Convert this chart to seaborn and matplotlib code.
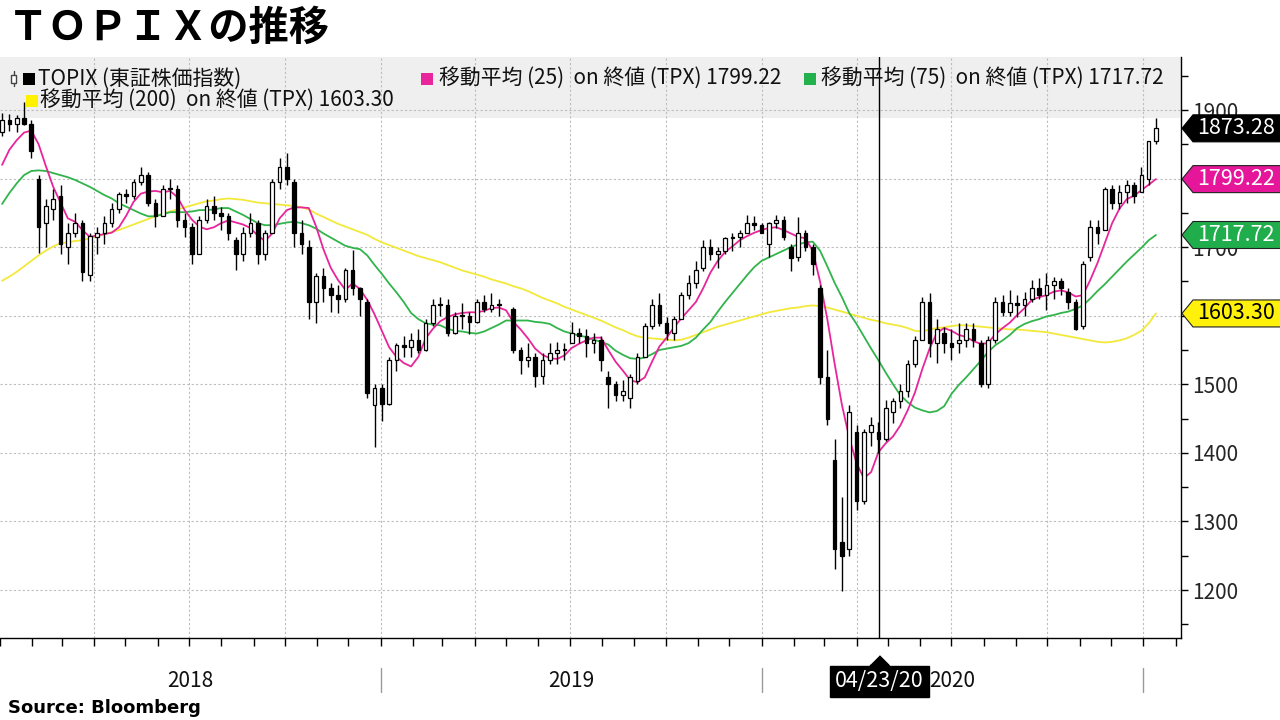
import numpy as np
import pandas as pd
import matplotlib
matplotlib.use("Agg")
import matplotlib.pyplot as plt
import matplotlib.dates as mdates
import matplotlib.transforms as mtrans
from matplotlib.patches import Polygon, Rectangle
from matplotlib.lines import Line2D
import seaborn as sns

# ---------------- data (weekly candles) ----------------
week_mid = pd.date_range("2018-01-03", periods=159, freq="7D")
nan = np.nan
opens = [1868, 1885, 1880, 1889, 1880, 1800, 1735, 1755, 1775, 1700, 1720, 1735, 1660, 1715, 1720, 1735,
         1755, 1777, 1775, 1795, 1805, 1765, 1745, 1785, 1785, 1740, 1730, 1690, 1740, 1760, 1750, 1745,
         1710, 1690, 1720, 1735, 1690, 1720, 1795, 1817, 1795, 1720, 1700, 1620, 1658, 1640, 1630, 1625,
         1667, 1640, 1620, 1470, 1494, 1471, 1535, 1557, 1554, 1564, 1550, 1590, 1615, 1615, 1575, 1600,
         1600, 1591, 1620, 1610, 1615, nan, 1610, 1550, 1535, 1540, 1512, 1535, 1545, 1550, 1560, 1575,
         1571, 1560, 1565, 1510, 1500, 1485, 1480, 1505, 1540, 1585, 1615, 1590, 1575, 1595, 1630, 1648,
         1670, 1700, 1690, 1695, 1714, 1715, 1720, 1735, 1733, 1705, 1735, 1740, 1700, 1685, 1720, 1700,
         1640, 1510, 1390, 1270, 1260, 1430, 1330, 1430, 1430, 1420, 1460, 1475, 1490, 1530, 1565, 1620,
         1560, 1575, 1560, 1560, 1565, 1580, 1560, 1500, 1565, 1620, 1605, 1618, 1615, 1625, 1640, 1630,
         1645, 1650, 1635, 1620, 1585, 1685, 1730, 1725, 1785, 1765, 1780, 1790, 1780, 1800, 1855]
highs = [1896, 1894, 1892, 1911, 1885, 1805, 1770, 1785, 1790, 1735, 1750, 1740, 1720, 1730, 1745, 1765,
         1780, 1785, 1800, 1817, 1810, 1770, 1790, 1800, 1790, 1750, 1735, 1745, 1770, 1775, 1758, 1750,
         1715, 1730, 1750, 1740, 1725, 1800, 1830, 1837, 1800, 1740, 1710, 1662, 1670, 1647, 1645, 1670,
         1696, 1642, 1625, 1500, 1500, 1540, 1560, 1570, 1575, 1580, 1595, 1625, 1627, 1625, 1605, 1618,
         1605, 1625, 1630, 1633, 1625, nan, 1612, 1555, 1560, 1545, 1545, 1560, 1561, 1560, 1591, 1582,
         1580, 1575, 1570, 1520, 1505, 1506, 1515, 1545, 1590, 1625, 1633, 1598, 1600, 1635, 1660, 1680,
         1710, 1712, 1700, 1715, 1720, 1725, 1747, 1745, 1735, 1737, 1747, 1745, 1705, 1744, 1725, 1705,
         1645, 1550, 1420, 1335, 1470, 1440, 1435, 1452, 1445, 1477, 1480, 1500, 1535, 1570, 1627, 1633,
         1595, 1583, 1580, 1589, 1589, 1590, 1565, 1570, 1627, 1630, 1637, 1630, 1635, 1652, 1655, 1662,
         1656, 1655, 1640, 1625, 1680, 1740, 1740, 1788, 1790, 1790, 1798, 1795, 1817, 1855, 1888]
lows = [1862, 1870, 1868, 1878, 1830, 1691, 1700, 1740, 1690, 1675, 1715, 1650, 1650, 1690, 1705, 1730,
        1750, 1765, 1770, 1790, 1760, 1730, 1745, 1770, 1730, 1715, 1676, 1690, 1735, 1740, 1725, 1710,
        1666, 1680, 1715, 1676, 1681, 1720, 1785, 1790, 1700, 1690, 1595, 1590, 1620, 1605, 1604, 1620,
        1630, 1600, 1480, 1408, 1447, 1470, 1520, 1540, 1540, 1545, 1548, 1585, 1600, 1570, 1574, 1580,
        1574, 1590, 1605, 1605, 1600, nan, 1545, 1515, 1525, 1496, 1500, 1530, 1530, 1535, 1560, 1560,
        1540, 1545, 1520, 1466, 1475, 1475, 1466, 1500, 1540, 1580, 1585, 1565, 1564, 1595, 1625, 1640,
        1665, 1681, 1670, 1690, 1695, 1700, 1720, 1725, 1721, 1685, 1728, 1710, 1665, 1680, 1695, 1660,
        1500, 1440, 1230, 1199, 1250, 1316, 1325, 1410, 1400, 1418, 1443, 1465, 1481, 1525, 1565, 1540,
        1531, 1545, 1535, 1545, 1555, 1555, 1496, 1495, 1560, 1600, 1600, 1598, 1600, 1620, 1625, 1608,
        1625, 1630, 1610, 1579, 1580, 1680, 1705, 1725, 1755, 1755, 1765, 1764, 1780, 1790, 1850]
closes = [1885, 1880, 1889, 1880, 1840, 1730, 1760, 1770, 1705, 1720, 1735, 1664, 1716, 1720, 1735, 1755,
          1777, 1775, 1795, 1805, 1765, 1745, 1785, 1785, 1740, 1730, 1690, 1740, 1760, 1750, 1745, 1720,
          1690, 1720, 1735, 1690, 1720, 1795, 1817, 1800, 1720, 1705, 1620, 1658, 1640, 1630, 1625, 1667,
          1640, 1625, 1488, 1494, 1471, 1535, 1557, 1554, 1564, 1550, 1590, 1615, 1615, 1575, 1600, 1600,
          1591, 1620, 1610, 1615, 1617, nan, 1550, 1535, 1540, 1512, 1535, 1545, 1550, 1550, 1575, 1571,
          1560, 1565, 1535, 1500, 1485, 1490, 1511, 1540, 1585, 1615, 1590, 1575, 1595, 1630, 1648, 1667,
          1700, 1690, 1695, 1714, 1715, 1720, 1735, 1733, 1721, 1735, 1740, 1715, 1684, 1720, 1700, 1675,
          1510, 1450, 1260, 1250, 1460, 1330, 1430, 1440, 1420, 1465, 1475, 1490, 1530, 1565, 1620, 1560,
          1580, 1560, 1555, 1565, 1580, 1565, 1500, 1565, 1620, 1605, 1618, 1615, 1625, 1640, 1630, 1645,
          1650, 1640, 1620, 1580, 1675, 1730, 1720, 1785, 1765, 1780, 1790, 1775, 1805, 1855, 1873.28]

ma25 = [1820, 1842, 1856, 1867, 1870, 1850, 1818, 1788, 1765, 1742, 1737, 1725, 1715, 1717, 1719, 1721,
        1729, 1746, 1766, 1778, 1781, 1782, 1780, 1782, 1773, 1754, 1740, 1730, 1726, 1729, 1735, 1739,
        1736, 1733, 1728, 1717, 1709, 1720, 1742, 1754, 1758, 1758, 1757, 1730, 1697, 1670, 1652, 1638,
        1647, 1639, 1623, 1602, 1578, 1554, 1540, 1531, 1526, 1540, 1567, 1581, 1592, 1598, 1602, 1604,
        1605, 1605, 1607, 1611, 1612, 1608, 1591, 1580, 1567, 1552, 1543, 1538, 1537, 1542, 1553, 1559,
        1564, 1568, 1568, 1550, 1533, 1520, 1506, 1503, 1510, 1533, 1555, 1568, 1583, 1596, 1608, 1620,
        1640, 1663, 1680, 1693, 1701, 1710, 1716, 1721, 1725, 1728, 1729, 1725, 1720, 1715, 1713, 1695,
        1650, 1595, 1530, 1470, 1422, 1385, 1363, 1372, 1401, 1414, 1424, 1440, 1462, 1488, 1522, 1552,
        1575, 1582, 1578, 1572, 1569, 1563, 1559, 1560, 1573, 1582, 1590, 1601, 1611, 1623, 1627, 1630,
        1635, 1637, 1634, 1628, 1630, 1652, 1677, 1706, 1735, 1756, 1770, 1775, 1783, 1791, 1799.22]
ma75 = [1763, 1779, 1793, 1805, 1811, 1812, 1811, 1808, 1805, 1802, 1798, 1793, 1788, 1782, 1776, 1771,
        1764, 1759, 1754, 1749, 1745, 1745, 1748, 1751, 1751, 1751, 1752, 1754, 1754, 1755, 1757, 1757,
        1752, 1747, 1741, 1735, 1732, 1732, 1734, 1736, 1737, 1735, 1732, 1727, 1720, 1714, 1708, 1702,
        1699, 1697, 1688, 1674, 1661, 1647, 1634, 1620, 1604, 1595, 1589, 1587, 1586, 1581, 1578, 1577,
        1575, 1574, 1577, 1582, 1587, 1593, 1593, 1593, 1593, 1591, 1590, 1588, 1582, 1577, 1574, 1571,
        1569, 1565, 1562, 1558, 1549, 1543, 1538, 1537, 1539, 1544, 1550, 1552, 1554, 1556, 1560, 1568,
        1580, 1591, 1606, 1620, 1633, 1646, 1659, 1671, 1680, 1685, 1690, 1695, 1700, 1704, 1707, 1708,
        1695, 1672, 1648, 1627, 1604, 1588, 1570, 1552, 1535, 1517, 1500, 1484, 1474, 1466, 1462, 1459,
        1461, 1468, 1486, 1499, 1510, 1522, 1534, 1547, 1557, 1564, 1572, 1582, 1588, 1592, 1595, 1599,
        1601, 1604, 1606, 1610, 1615, 1625, 1636, 1646, 1657, 1668, 1679, 1689, 1699, 1710, 1717.72]
ma200 = [1651, 1657, 1664, 1672, 1680, 1688, 1695, 1701, 1706, 1707, 1709, 1710, 1713, 1716, 1719, 1722,
         1725, 1729, 1733, 1737, 1741, 1745, 1749, 1752, 1755, 1758, 1761, 1764, 1767, 1768, 1770, 1771,
         1770, 1769, 1767, 1765, 1764, 1763, 1762, 1761, 1760, 1758, 1755, 1749, 1744, 1739, 1734, 1730,
         1726, 1722, 1718, 1712, 1707, 1703, 1699, 1695, 1691, 1687, 1684, 1681, 1678, 1674, 1670, 1666,
         1663, 1660, 1657, 1653, 1650, 1647, 1643, 1640, 1636, 1631, 1626, 1622, 1618, 1613, 1609, 1605,
         1601, 1597, 1593, 1588, 1583, 1579, 1574, 1570, 1568, 1567, 1566, 1565, 1564, 1565, 1568, 1572,
         1576, 1580, 1584, 1587, 1590, 1593, 1596, 1599, 1602, 1605, 1607, 1609, 1611, 1612, 1614, 1615,
         1614, 1612, 1609, 1606, 1603, 1600, 1597, 1594, 1592, 1589, 1587, 1585, 1582, 1578, 1577, 1580,
         1582, 1583, 1585, 1586, 1586, 1585, 1584, 1583, 1582, 1581, 1580, 1580, 1579, 1578, 1577, 1576,
         1574, 1572, 1570, 1568, 1566, 1564, 1562, 1561, 1562, 1564, 1567, 1572, 1578, 1589, 1603.30]

series_names = ["TOPIX (東証株価指数)", "移動平均 (25)  on 終値 (TPX) 1799.22",
                "移動平均 (75)  on 終値 (TPX) 1717.72", "移動平均 (200)  on 終値 (TPX) 1603.30"]
year_labels = ["2018", "2019", "2020"]
y_ticks = [1200, 1300, 1400, 1500, 1700, 1900]   # 1600/1800 sit under the value tags
cursor_date = "2020-04-23"
cursor_label = "04/23/20"

C_MA25 = "#e8259a"
C_MA75 = "#31b44b"
C_MA200 = "#f2e93a"

# ---------------- figure ----------------
sns.set_theme(style="white")
plt.rcParams["font.family"] = ["Noto Sans CJK JP", "DejaVu Sans"]

W, H = 1280, 720
fig = plt.figure(figsize=(W / 100, H / 100), dpi=100)
ax_l, ax_r, ax_t, ax_b = 0, 1181, 57, 638
ax = fig.add_axes([ax_l / W, 1 - ax_b / H, (ax_r - ax_l) / W, (ax_b - ax_t) / H])

df = pd.DataFrame({"date": week_mid, "open": opens, "high": highs, "low": lows, "close": closes,
                   "ma25": ma25, "ma75": ma75, "ma200": ma200})

ax.set_ylim(1130, 1977.3)
ax.set_xlim(pd.Timestamp("2018-01-01"), pd.Timestamp("2021-02-06"))

# legend band
ax.add_patch(Rectangle((0, (ax_b - 118) / (ax_b - ax_t)), 1, 1, transform=ax.transAxes,
                       facecolor="#efefef", edgecolor="none", zorder=0))

# grid
for v in range(1200, 1901, 100):
    ax.axhline(v, color="#bdbdbd", lw=0.8, ls=(0, (2, 2)), zorder=0.5)
for d in pd.date_range("2018-04-01", "2021-01-01", freq="QS"):
    ax.axvline(d, color="#bdbdbd", lw=0.8, ls=(0, (2, 2)), zorder=0.5)

# moving averages
sns.lineplot(data=df, x="date", y="ma200", ax=ax, color=C_MA200, lw=1.3, zorder=2, legend=False)
sns.lineplot(data=df, x="date", y="ma75", ax=ax, color=C_MA75, lw=1.3, zorder=2, legend=False)
sns.lineplot(data=df, x="date", y="ma25", ax=ax, color=C_MA25, lw=1.3, zorder=2, legend=False)

# candles
dc = df.dropna(subset=["open"])
up = dc["close"] >= dc["open"]
ax.vlines(dc["date"], dc["low"], dc["high"], color="black", lw=1.0, zorder=3)
body_lo = np.minimum(dc["open"], dc["close"])
body_h = np.maximum(np.abs(dc["close"] - dc["open"]), 1.5)
ax.bar(dc["date"][up], body_h[up], bottom=body_lo[up], width=3.5, facecolor="white",
       edgecolor="black", lw=0.9, zorder=4)
ax.bar(dc["date"][~up], body_h[~up], bottom=body_lo[~up], width=3.5, facecolor="black",
       edgecolor="black", lw=0.9, zorder=4)

# cursor
cd = pd.Timestamp(cursor_date)
ax.axvline(cd, color="black", lw=1.0, zorder=5)

# axes styling
for s in ["top", "left"]:
    ax.spines[s].set_visible(False)
for s in ["right", "bottom"]:
    ax.spines[s].set_color("black")
    ax.spines[s].set_linewidth(1.0)
ax.set_xlabel("")
ax.set_ylabel("")
ax.yaxis.tick_right()
ax.set_yticks(y_ticks)
ax.set_yticks(range(1150, 1951, 50), minor=True)
ax.tick_params(axis="y", which="major", direction="out", length=5, width=1, color="black",
               labelsize=15, pad=3, right=True, left=False, labelright=True, labelleft=False)
ax.tick_params(axis="y", which="minor", direction="out", length=5, width=1, color="black", right=True)
ax.xaxis.set_major_locator(mdates.MonthLocator())
ax.tick_params(axis="x", which="major", direction="out", length=6, width=1, color="black",
               bottom=True, labelbottom=False)
ax.grid(False)

# year labels & separators
bt = mtrans.blended_transform_factory(ax.transData, ax.transAxes)
yr_starts = pd.to_datetime(["2018-01-01", "2019-01-01", "2020-01-01", "2021-01-01"])
for k, lab in enumerate(year_labels):
    mid = yr_starts[k] + (yr_starts[k + 1] - yr_starts[k]) / 2
    ax.text(mid, -0.074, lab, transform=bt, ha="center", va="center", fontsize=15, color="#111111")
for d in yr_starts[1:]:
    ax.plot([d, d], [-0.052, -0.093], transform=bt, color="#9a9a9a", lw=1, clip_on=False)

# cursor date box
ax.plot([cd], [-0.0465], transform=bt, marker=[(-1, 0), (1, 0), (0, 1)], markersize=14,
        color="black", clip_on=False, zorder=6)
ax.text(cd, -0.0745, cursor_label, transform=bt, ha="center", va="center", fontsize=15.5,
        color="white", zorder=7,
        bbox=dict(boxstyle="square,pad=0.22", facecolor="black", edgecolor="black"))

# right-hand value tags
def tag(value, face, txt_color):
    yc = ax.transData.transform((0, value))[1]  # pixels from bottom
    hh = 13.5
    verts = [(1182, yc), (1193, yc + hh), (1282, yc + hh), (1282, yc - hh), (1193, yc - hh)]
    verts = [(x / W, y / H) for x, y in verts]
    fig.add_artist(Polygon(verts, closed=True, transform=fig.transFigure, facecolor=face,
                           edgecolor="#222222" if face != "black" else "black", lw=0.8, zorder=10))
    fig.text(1236 / W, yc / H, f"{value:.2f}", ha="center", va="center", fontsize=15.5,
             color=txt_color, zorder=11)

tag(ma200[-1], "#fff10a", "black")
tag(ma75[-1], "#1fae4b", "white")
tag(ma25[-1], "#e5169a", "white")
tag(closes[-1], "black", "white")

# legend
def sq(x, yc, color):
    fig.add_artist(Rectangle((x / W, 1 - (yc + 6) / H), 12 / W, 12 / H, transform=fig.transFigure,
                             facecolor=color, edgecolor="none", zorder=10))

r1, r2 = 79, 101
# small candle icon
fig.add_artist(Line2D([13.5 / W, 13.5 / W], [1 - 71 / H, 1 - 86 / H], transform=fig.transFigure,
                      color="#444444", lw=1, zorder=10))
fig.add_artist(Rectangle((11 / W, 1 - 83 / H), 5 / W, 8 / H, transform=fig.transFigure,
                         facecolor="white", edgecolor="#444444", lw=1, zorder=11))
sq(23, r1, "black")
fig.text(38 / W, 1 - r1 / H, series_names[0], ha="left", va="center", fontsize=15, color="#111111")
sq(421, r1, C_MA25)
fig.text(439 / W, 1 - r1 / H, series_names[1], ha="left", va="center", fontsize=15, color="#111111")
sq(804, r1, "#22b14c")
fig.text(821 / W, 1 - r1 / H, series_names[2], ha="left", va="center", fontsize=15, color="#111111")
sq(26, r2, "#fff200")
fig.text(40 / W, 1 - r2 / H, series_names[3], ha="left", va="center", fontsize=15, color="#111111")

# title & source
fig.text(8 / W, 1 - 28 / H, "ＴＯＰＩＸの推移", ha="left", va="center", fontsize=29,
         fontweight="bold", color="black")
fig.text(8 / W, 1 - 708 / H, "Source: Bloomberg", ha="left", va="center", fontsize=13,
         fontweight="bold", color="black", family=["DejaVu Sans"])

fig.savefig("out.png", dpi=100)
